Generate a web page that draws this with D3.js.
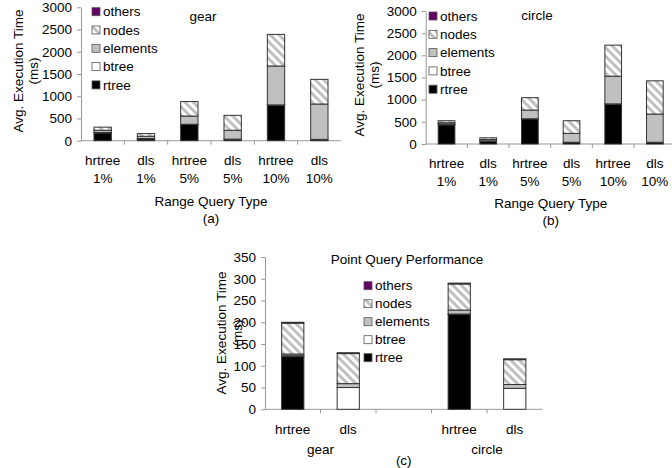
<!DOCTYPE html>
<html><head><meta charset="utf-8">
<script src="https://cdn.jsdelivr.net/npm/d3@7"></script>
<style>
body{margin:0;background:#fff;}
svg text{font-family:"Liberation Sans",Arial,sans-serif;font-size:13.5px;fill:#000;}
</style></head><body>
<svg id="chart" width="672" height="468"></svg>
<script>
// ---- data ----
const seriesNames = ["rtree","btree","elements","nodes","others"];
const legendOrder = ["others","nodes","elements","btree","rtree"];

const rangeMethods  = ["hrtree","dls","hrtree","dls","hrtree","dls"];
const rangePercents = ["1%","1%","5%","5%","10%","10%"];
const rangeTicks    = [0,500,1000,1500,2000,2500,3000];

// (a) gear
const gearRtree    = [175, 40, 365, 35, 800, 30];
const gearBtree    = [10, 10, 5, 0, 5, 0];
const gearElements = [50, 50, 185, 200, 875, 795];
const gearNodes    = [70, 60, 325, 335, 710, 555];
const gearOthers   = [0, 0, 0, 0, 0, 0];

// (b) circle
const circleRtree    = [430, 60, 565, 40, 900, 40];
const circleBtree    = [20, 10, 5, 0, 5, 0];
const circleElements = [30, 30, 195, 200, 625, 635];
const circleNodes    = [45, 40, 280, 285, 700, 750];
const circleOthers   = [0, 0, 0, 0, 0, 0];

// (c) point query
const pointMethods  = ["hrtree","dls","","hrtree","dls"];
const pointGroups   = ["gear","circle"];
const pointTicks    = [0,50,100,150,200,250,300,350];
const pointRtree    = [121, 0, 0, 218, 0];
const pointBtree    = [2, 50, 0, 1, 48];
const pointElements = [4, 9, 0, 9, 9];
const pointNodes    = [71, 69, 0, 60, 57];
const pointOthers   = [2, 2, 0, 2, 2];

// ---- drawing ----
const svg = d3.select("#chart");
const defs = svg.append("defs");
const pat = defs.append("pattern").attr("id","hatch")
  .attr("patternUnits","userSpaceOnUse").attr("width",6).attr("height",6)
  .attr("patternTransform","rotate(-45)");
pat.append("rect").attr("width",6).attr("height",6).attr("fill","#c0c0c0");
pat.append("rect").attr("width",3).attr("height",6).attr("fill","#ffffff");

const fills = {rtree:"#000000", btree:"#ffffff", elements:"#c0c0c0", nodes:"url(#hatch)", others:"#660066"};
const axisColor = "#999999";

function drawPanel(p){
  const g = svg.append("g");
  const n = p.labels1.length;
  const x = d3.scaleBand().domain(d3.range(n)).range([p.x0, p.x1])
    .paddingInner(0.6).paddingOuter(0.3);
  const y = d3.scaleLinear().domain([0, p.ticks[p.ticks.length-1]]).range([p.yb, p.yt]);

  // y axis
  const ya = g.append("g").attr("transform",`translate(${p.x0},0)`)
    .call(d3.axisLeft(y).tickValues(p.ticks).tickFormat(d3.format("d"))
      .tickSize(4).tickPadding(5).tickSizeOuter(0));
  ya.attr("font-family",null).attr("font-size",null);
  ya.select(".domain").attr("stroke",axisColor);
  ya.selectAll(".tick line").attr("stroke",axisColor);

  // x axis
  g.append("line").attr("x1",p.x0).attr("x2",p.x1).attr("y1",y(0)).attr("y2",y(0))
    .attr("stroke",axisColor);
  const step = x.step();
  for(let i=1;i<n;i++){
    g.append("line").attr("x1",p.x0+i*step).attr("x2",p.x0+i*step)
      .attr("y1",y(0)).attr("y2",y(0)+4).attr("stroke",axisColor);
  }

  // bars
  const rows = d3.range(n).map(i => {
    const r = {i};
    seriesNames.forEach(s => r[s] = p.series[s][i] || 0);
    return r;
  });
  const stacked = d3.stack().keys(seriesNames)(rows);
  stacked.forEach(layer => {
    g.append("g").selectAll("rect")
      .data(layer.filter(d => d[1]-d[0] > 0))
      .join("rect")
      .attr("x", d => x(d.data.i))
      .attr("width", x.bandwidth())
      .attr("y", d => y(d[1]))
      .attr("height", d => y(d[0]) - y(d[1]))
      .attr("fill", fills[layer.key])
      .attr("stroke","#333").attr("stroke-width",1);
  });

  // category labels
  g.append("g").selectAll("text").data(p.labels1).join("text")
    .attr("x",(d,i)=>x(i)+x.bandwidth()/2).attr("y",p.lab1y).attr("dy","0.35em")
    .attr("text-anchor","middle").text(d=>d);
  if(p.labels2){
    g.append("g").selectAll("text").data(p.labels2).join("text")
      .attr("x",(d,i)=>x(i)+x.bandwidth()/2).attr("y",p.lab2y).attr("dy","0.35em")
      .attr("text-anchor","middle").text(d=>d);
  }
  if(p.groups){
    g.append("g").selectAll("text").data(p.groups).join("text")
      .attr("x",(d,i)=>p.x0 + (i===0 ? 1 : 4)*step)
      .attr("y",p.groupY).attr("dy","0.35em").attr("text-anchor","middle").text(d=>d);
  }
  const mid = (p.x0+p.x1)/2;
  if(p.xTitle){
    g.append("text").attr("x",mid).attr("y",p.xTitleY).attr("dy","0.35em")
      .attr("text-anchor","middle").text(p.xTitle);
  }
  g.append("text").attr("x",mid).attr("y",p.capY).attr("dy","0.35em")
    .attr("text-anchor","middle").text(p.caption);

  // y title
  g.append("text").attr("transform",`translate(${p.yt1x},${p.ytcy}) rotate(-90)`)
    .attr("dy","0.35em").attr("text-anchor","middle").text("Avg. Execution Time");
  g.append("text").attr("transform",`translate(${p.yt2x},${p.ytcy}) rotate(-90)`)
    .attr("dy","0.35em").attr("text-anchor","middle").text("(ms)");

  // chart title
  g.append("text").attr("x",p.titleX).attr("y",p.titleY).attr("dy","0.35em")
    .attr("text-anchor","middle").text(p.title);

  // legend
  const lg = g.append("g");
  legendOrder.forEach((s,k) => {
    const cy = p.legY + k*p.legStep;
    lg.append("rect").attr("x",p.legX).attr("y",cy-4).attr("width",8).attr("height",8)
      .attr("fill",fills[s]).attr("stroke","#555").attr("stroke-width",0.8);
    lg.append("text").attr("x",p.legX+11).attr("y",cy).attr("dy","0.35em").text(s);
  });
}

drawPanel({
  x0:81, x1:341, yb:140.7, yt:7.3, ticks:rangeTicks,
  labels1:rangeMethods, labels2:rangePercents, lab1y:160, lab2y:178,
  series:{rtree:gearRtree, btree:gearBtree, elements:gearElements, nodes:gearNodes, others:gearOthers},
  xTitle:"Range Query Type", xTitleY:201.5, caption:"(a)", capY:218,
  yt1x:18, yt2x:33, ytcy:71,
  title:"gear", titleX:203, titleY:16,
  legX:92, legY:11.7, legStep:18.3
});

drawPanel({
  x0:425.7, x1:675.7, yb:144, yt:11, ticks:rangeTicks,
  labels1:rangeMethods, labels2:rangePercents, lab1y:163.3, lab2y:181.7,
  series:{rtree:circleRtree, btree:circleBtree, elements:circleElements, nodes:circleNodes, others:circleOthers},
  xTitle:"Range Query Type", xTitleY:203.3, caption:"(b)", capY:220,
  yt1x:359, yt2x:374, ytcy:75,
  title:"circle", titleX:537, titleY:15,
  legX:429, legY:16, legStep:18.3
});

drawPanel({
  x0:265, x1:542.5, yb:409.3, yt:257, ticks:pointTicks,
  labels1:pointMethods, lab1y:429,
  groups:pointGroups, groupY:449,
  series:{rtree:pointRtree, btree:pointBtree, elements:pointElements, nodes:pointNodes, others:pointOthers},
  caption:"(c)", capY:460,
  yt1x:221, yt2x:237, ytcy:333,
  title:"Point Query Performance", titleX:407, titleY:259,
  legX:364, legY:285.7, legStep:18
});
</script>
</body></html>
